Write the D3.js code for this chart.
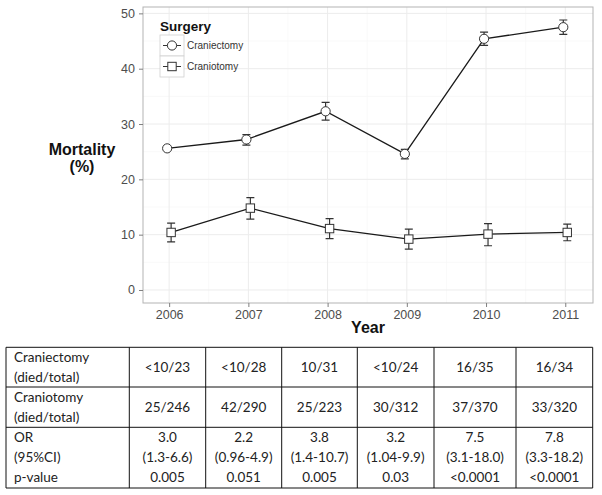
<!DOCTYPE html>
<html>
<head>
<meta charset="utf-8">
<script src="https://cdn.jsdelivr.net/npm/d3@7"></script>
<style>
  body { margin: 0; background: #fff; }
  svg { display: block; }
</style>
</head>
<body>
<svg id="chart" width="602" height="495"></svg>
<script>
// data
const years = [2006, 2007, 2008, 2009, 2010, 2011];
const craniectomy = [25.6, 27.2, 32.3, 24.6, 45.4, 47.5];
const craniectomyLo = [25.3, 26.2, 30.7, 23.7, 44.2, 46.2];
const craniectomyHi = [25.9, 28.1, 33.9, 25.4, 46.6, 48.8];
const craniotomy = [10.4, 14.8, 11.1, 9.2, 10.1, 10.4];
const craniotomyLo = [8.7, 12.8, 9.3, 7.4, 8.0, 8.9];
const craniotomyHi = [12.1, 16.7, 12.9, 11.0, 12.0, 11.9];
const yTicks = [0, 10, 20, 30, 40, 50];

const tableRows = [
  ["Craniectomy", "(died/total)"],
  ["Craniotomy", "(died/total)"],
  ["OR", "(95%CI)", "p-value"]
];
const craniectomyCounts = ["<10/23", "<10/28", "10/31", "<10/24", "16/35", "16/34"];
const craniotomyCounts = ["25/246", "42/290", "25/223", "30/312", "37/370", "33/320"];
const orValues = ["3.0", "2.2", "3.8", "3.2", "7.5", "7.8"];
const orCI = ["(1.3-6.6)", "(0.96-4.9)", "(1.4-10.7)", "(1.04-9.9)", "(3.1-18.0)", "(3.3-18.2)"];
const pValues = ["0.005", "0.051", "0.005", "0.03", "<0.0001", "<0.0001"];

const svg = d3.select("#chart");
const AXIS_FONT = "'Liberation Sans', Arial, sans-serif";
const TABLE_FONT = "Lato, 'Open Sans', sans-serif";

const panel = { left: 143, right: 593, top: 7, bottom: 303 };
const x = d3.scaleLinear().domain([2005.67, 2011.35]).range([panel.left, panel.right]);
const y = d3.scaleLinear().domain([-2.35, 51.15]).range([panel.bottom, panel.top]);
const dodge = 0.025;

// panel grid
const g = svg.append("g");
const minorX = d3.range(2006.5, 2011, 1);
const minorY = d3.range(5, 50, 10);
g.selectAll(".minx").data(minorX).join("line")
  .attr("x1", d => x(d)).attr("x2", d => x(d))
  .attr("y1", panel.top).attr("y2", panel.bottom)
  .attr("stroke", "#f7f7f7").attr("stroke-width", 0.8);
g.selectAll(".miny").data(minorY).join("line")
  .attr("x1", panel.left).attr("x2", panel.right)
  .attr("y1", d => y(d)).attr("y2", d => y(d))
  .attr("stroke", "#f7f7f7").attr("stroke-width", 0.8);
g.selectAll(".majx").data(years).join("line")
  .attr("x1", d => x(d)).attr("x2", d => x(d))
  .attr("y1", panel.top).attr("y2", panel.bottom)
  .attr("stroke", "#ececec").attr("stroke-width", 1);
g.selectAll(".majy").data(yTicks).join("line")
  .attr("x1", panel.left).attr("x2", panel.right)
  .attr("y1", d => y(d)).attr("y2", d => y(d))
  .attr("stroke", "#ececec").attr("stroke-width", 1);

g.append("rect")
  .attr("x", panel.left).attr("y", panel.top)
  .attr("width", panel.right - panel.left).attr("height", panel.bottom - panel.top)
  .attr("fill", "none").attr("stroke", "#b3b3b3").attr("stroke-width", 1);

// axes
const xAxis = svg.append("g")
  .attr("transform", `translate(0,${panel.bottom})`)
  .call(d3.axisBottom(x).tickValues(years).tickFormat(d3.format("d")).tickSize(4).tickPadding(3));
const yAxis = svg.append("g")
  .attr("transform", `translate(${panel.left},0)`)
  .call(d3.axisLeft(y).tickValues(yTicks).tickSize(4).tickPadding(4));
[xAxis, yAxis].forEach(ax => {
  ax.select(".domain").remove();
  ax.selectAll(".tick line").attr("stroke", "#7f7f7f");
  ax.selectAll(".tick text")
    .attr("fill", "#4d4d4d")
    .attr("font-family", AXIS_FONT)
    .attr("font-size", 12.5);
});

svg.append("text")
  .attr("x", 368).attr("y", 333)
  .attr("text-anchor", "middle")
  .attr("font-family", AXIS_FONT).attr("font-weight", "bold")
  .attr("font-size", 16).attr("fill", "#111")
  .text("Year");
svg.append("text")
  .attr("x", 82).attr("y", 155)
  .attr("text-anchor", "middle")
  .attr("font-family", AXIS_FONT).attr("font-weight", "bold")
  .attr("font-size", 16).attr("fill", "#111")
  .text("Mortality");
svg.append("text")
  .attr("x", 82).attr("y", 172)
  .attr("text-anchor", "middle")
  .attr("font-family", AXIS_FONT).attr("font-weight", "bold")
  .attr("font-size", 16).attr("fill", "#111")
  .text("(%)");

// series
const series = [
  { name: "Craniectomy", vals: craniectomy, lo: craniectomyLo, hi: craniectomyHi, off: -dodge, shape: "circle" },
  { name: "Craniotomy", vals: craniotomy, lo: craniotomyLo, hi: craniotomyHi, off: dodge, shape: "square" }
];
const line = d3.line().x(d => x(d.year)).y(d => y(d.v));

function drawMarker(sel, shape, cx, cy) {
  if (shape === "circle") {
    sel.append("circle").attr("cx", cx).attr("cy", cy).attr("r", 4.6)
      .attr("fill", "#fff").attr("stroke", "#333").attr("stroke-width", 1);
  } else {
    sel.append("rect").attr("x", cx - 4.2).attr("y", cy - 4.2)
      .attr("width", 8.4).attr("height", 8.4)
      .attr("fill", "#fff").attr("stroke", "#333").attr("stroke-width", 1);
  }
}

series.forEach(s => {
  const pts = years.map((yr, i) => ({ year: yr + s.off, v: s.vals[i], lo: s.lo[i], hi: s.hi[i] }));
  const sg = svg.append("g");
  sg.append("path").datum(pts).attr("d", line)
    .attr("fill", "none").attr("stroke", "#1a1a1a").attr("stroke-width", 1.3);
  pts.forEach(p => {
    const cx = x(p.year);
    sg.append("path")
      .attr("d", `M${cx - 4},${y(p.hi)}H${cx + 4}M${cx},${y(p.hi)}V${y(p.lo)}M${cx - 4},${y(p.lo)}H${cx + 4}`)
      .attr("fill", "none").attr("stroke", "#333").attr("stroke-width", 1.2);
  });
  pts.forEach(p => drawMarker(sg, s.shape, x(p.year), y(p.v)));
});

// legend
const lg = svg.append("g");
lg.append("text").attr("x", 160).attr("y", 31)
  .attr("font-family", AXIS_FONT).attr("font-weight", "bold")
  .attr("font-size", 13.5).attr("fill", "#111").text("Surgery");
series.forEach((s, i) => {
  const top = 35 + i * 21;
  lg.append("rect").attr("x", 160).attr("y", top).attr("width", 24).attr("height", 21)
    .attr("fill", "#fff").attr("stroke", "#d0d0d0").attr("stroke-width", 0.8);
  lg.append("line").attr("x1", 163).attr("x2", 181).attr("y1", top + 10.5).attr("y2", top + 10.5)
    .attr("stroke", "#333").attr("stroke-width", 1);
  drawMarker(lg, s.shape, 172, top + 10.5);
  lg.append("text").attr("x", 187).attr("y", top + 14)
    .attr("font-family", AXIS_FONT).attr("font-size", 10)
    .attr("fill", "#333").text(s.name);
});

// table
const colEdges = [6, 129.3, 205.7, 281.7, 357.3, 434, 516, 592.7];
const rowEdges = [347.3, 387, 427.3, 488];
const tg = svg.append("g");
const lineColor = "#111";
rowEdges.forEach(r => tg.append("line")
  .attr("x1", colEdges[0]).attr("x2", colEdges[colEdges.length - 1])
  .attr("y1", r).attr("y2", r).attr("stroke", lineColor).attr("stroke-width", 1));
colEdges.forEach(c => tg.append("line")
  .attr("x1", c).attr("x2", c)
  .attr("y1", rowEdges[0]).attr("y2", rowEdges[rowEdges.length - 1])
  .attr("stroke", lineColor).attr("stroke-width", 1));

function cellText(txt, cx, cy, anchor) {
  tg.append("text").attr("x", cx).attr("y", cy)
    .attr("text-anchor", anchor).attr("dominant-baseline", "central")
    .attr("font-family", TABLE_FONT).attr("font-size", 13.5)
    .attr("fill", "#222").text(txt);
}
const lineY = [[356.7, 376.7], [396.7, 416.5], [436.7, 456.7, 476.7]];
tableRows.forEach((lines, r) => lines.forEach((t, k) => cellText(t, 14, lineY[r][k], "start")));
const colMid = i => (colEdges[i + 1] + colEdges[i + 2]) / 2;
craniectomyCounts.forEach((t, i) => cellText(t, colMid(i), (rowEdges[0] + rowEdges[1]) / 2, "middle"));
craniotomyCounts.forEach((t, i) => cellText(t, colMid(i), (rowEdges[1] + rowEdges[2]) / 2, "middle"));
orValues.forEach((t, i) => cellText(t, colMid(i), lineY[2][0], "middle"));
orCI.forEach((t, i) => cellText(t, colMid(i), lineY[2][1], "middle"));
pValues.forEach((t, i) => cellText(t, colMid(i), lineY[2][2], "middle"));
</script>
</body>
</html>
